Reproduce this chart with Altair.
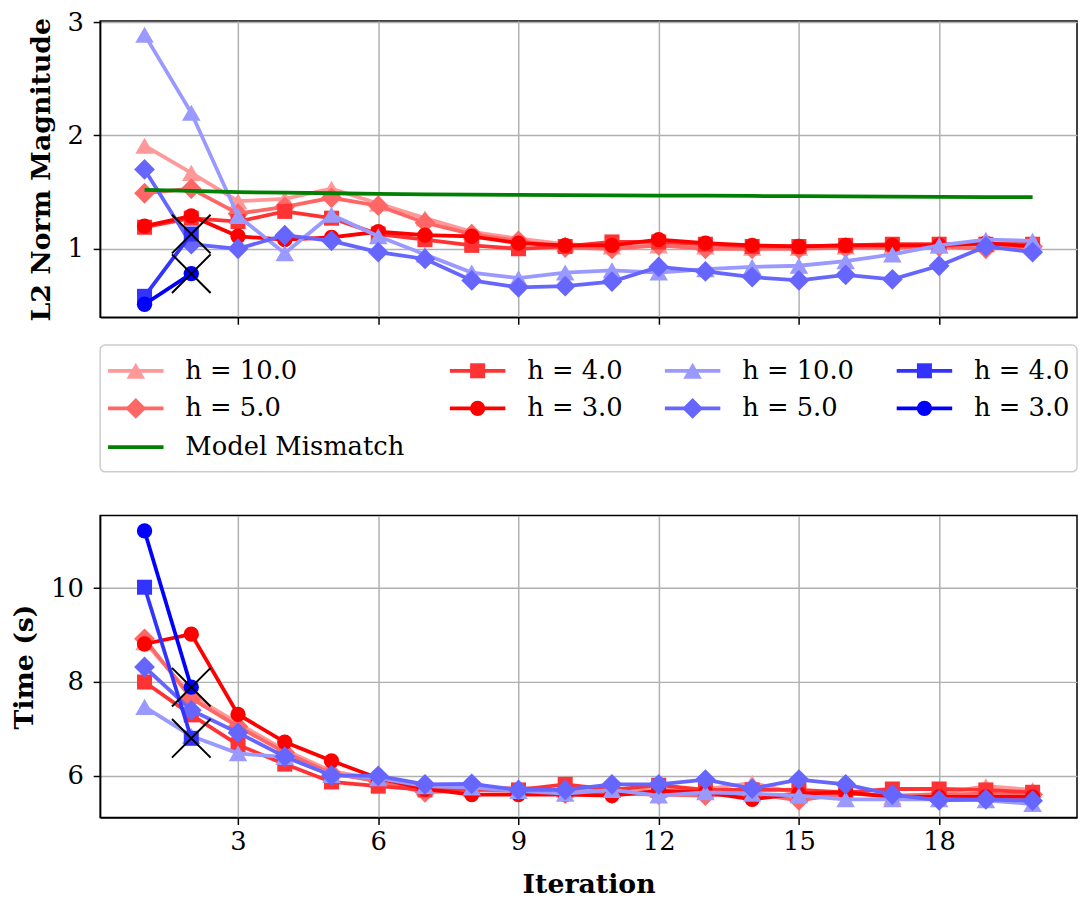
import altair as alt
import pandas as pd

# ---------------- data ----------------
iterations = list(range(1, 21))

# L2 norm magnitude (top panel)
l2_red_h10 = [1.91, 1.67, 1.42, 1.44, 1.53, 1.40, 1.27, 1.15, 1.09, 1.04, 1.02, 1.03, 1.02, 1.01, 1.01, 1.02, 1.02, 1.03, 1.04, 1.05]
l2_red_h5 = [1.49, 1.53, 1.31, 1.37, 1.45, 1.38, 1.23, 1.13, 1.07, 1.01, 1.00, 1.03, 1.00, 1.00, 1.00, 1.01, 1.01, 1.02, 1.00, 1.02]
l2_red_h4 = [1.19, 1.27, 1.24, 1.33, 1.27, 1.13, 1.08, 1.03, 1.00, 1.02, 1.06, 1.06, 1.04, 1.02, 1.02, 1.03, 1.04, 1.04, 1.04, 1.04]
l2_red_h3 = [1.20, 1.29, 1.11, 1.08, 1.10, 1.15, 1.12, 1.11, 1.05, 1.03, 1.03, 1.08, 1.05, 1.03, 1.02, 1.03, 1.03, 1.03, 1.05, 1.02]
l2_blue_h10 = [2.89, 2.20, 1.29, 0.96, 1.30, 1.11, 0.95, 0.79, 0.74, 0.79, 0.81, 0.79, 0.82, 0.84, 0.85, 0.89, 0.95, 1.03, 1.08, 1.07]
l2_blue_h5 = [1.70, 1.04, 1.00, 1.12, 1.07, 0.97, 0.91, 0.72, 0.66, 0.67, 0.71, 0.84, 0.80, 0.75, 0.72, 0.77, 0.73, 0.85, 1.02, 0.97]
l2_blue_h4 = [0.58, 1.13]
l2_blue_h3 = [0.51, 0.78]
l2_model_mismatch = [1.52, 1.51, 1.50, 1.495, 1.49, 1.485, 1.48, 1.478, 1.476, 1.474, 1.472, 1.47, 1.468, 1.466, 1.464, 1.462, 1.46, 1.458, 1.456, 1.455]

# Time (bottom panel)
t_red_h10 = [8.85, 7.72, 7.12, 6.55, 6.10, 5.92, 5.75, 5.72, 5.75, 5.70, 5.72, 5.70, 5.72, 5.85, 5.62, 5.65, 5.55, 5.62, 5.78, 5.70]
t_red_h5 = [8.92, 7.65, 7.05, 6.50, 6.05, 5.88, 5.65, 5.70, 5.68, 5.62, 5.62, 5.60, 5.58, 5.62, 5.48, 5.62, 5.58, 5.60, 5.62, 5.60]
t_red_h4 = [8.00, 7.30, 6.66, 6.25, 5.87, 5.78, 5.70, 5.72, 5.70, 5.82, 5.70, 5.80, 5.70, 5.70, 5.70, 5.65, 5.72, 5.72, 5.70, 5.65]
t_red_h3 = [8.81, 9.02, 7.31, 6.72, 6.32, 5.95, 5.72, 5.60, 5.60, 5.60, 5.58, 5.68, 5.65, 5.50, 5.62, 5.65, 5.55, 5.55, 5.55, 5.55]
t_blue_h10 = [7.47, 6.85, 6.48, 6.40, 6.02, 5.95, 5.78, 5.75, 5.68, 5.62, 5.70, 5.58, 5.65, 5.62, 5.58, 5.50, 5.50, 5.50, 5.48, 5.40]
t_blue_h5 = [8.32, 7.40, 6.92, 6.41, 6.01, 6.00, 5.82, 5.83, 5.70, 5.70, 5.82, 5.82, 5.92, 5.73, 5.92, 5.82, 5.60, 5.48, 5.50, 5.47]
t_blue_h4 = [10.02, 6.80]
t_blue_h3 = [11.22, 7.89]

# stopping points (black X) at iteration 2
fail_iter = [2, 2]
fail_l2 = [1.13, 0.78]
fail_time = [6.80, 7.89]

# series styling
series_labels = ["h = 10.0", "h = 5.0", "h = 4.0", "h = 3.0", "h = 10.0", "h = 5.0", "h = 4.0", "h = 3.0"]
series_colors = ["#ff9999", "#ff6666", "#ff3333", "#ff0000", "#9999ff", "#6666ff", "#3333ff", "#0000ff"]
series_shapes = ["triangle-up", "diamond", "square", "circle", "triangle-up", "diamond", "square", "circle"]
series_sizes = [350, 440, 230, 240, 350, 440, 230, 240]
l2_series = [l2_red_h10, l2_red_h5, l2_red_h4, l2_red_h3, l2_blue_h10, l2_blue_h5, l2_blue_h4, l2_blue_h3]
time_series = [t_red_h10, t_red_h5, t_red_h4, t_red_h3, t_blue_h10, t_blue_h5, t_blue_h4, t_blue_h3]
mismatch_label = "Model Mismatch"
mismatch_color = "#008000"

FONT = "DejaVu Serif"
W = 986
LW = 3.8
LABEL_FS = 26
TITLE_FS = 27

x_ticks = [3, 6, 9, 12, 15, 18]


def panel(series_vals, ydom, height, yticks, ytitle, show_x, mismatch=None, fails=None):
    xs = alt.Scale(domain=[0.05, 20.95], nice=False, zero=False)
    ys = alt.Scale(domain=ydom, nice=False, zero=False)
    if show_x:
        X = alt.X("it:Q", scale=xs, title="Iteration",
                  axis=alt.Axis(values=x_ticks, format="d", grid=True))
    else:
        X = alt.X("it:Q", scale=xs, title=None,
                  axis=alt.Axis(values=x_ticks, labels=False, grid=True))
    Y = alt.Y("v:Q", scale=ys, title=ytitle,
              axis=alt.Axis(values=yticks, format="d", grid=True))
    layers = []
    for vals, col, shp, sz in zip(series_vals, series_colors, series_shapes, series_sizes):
        df = pd.DataFrame({"it": iterations[:len(vals)], "v": vals})
        base = alt.Chart(df)
        layers.append(base.mark_line(color=col, strokeWidth=LW).encode(x=X, y=Y))
        layers.append(base.mark_point(shape=shp, filled=True, size=sz, color=col,
                                      opacity=1).encode(x=X, y=Y))
    if mismatch is not None:
        dfm = pd.DataFrame({"it": iterations[:len(mismatch)], "v": mismatch})
        layers.append(alt.Chart(dfm).mark_line(color=mismatch_color, strokeWidth=LW).encode(x=X, y=Y))
    if fails is not None:
        dff = pd.DataFrame({"it": fails[0], "v": fails[1]})
        layers.append(alt.Chart(dff).mark_point(shape="M-1,-1L1,1M-1,1L1,-1", filled=False,
                                                 size=1520, color="black", strokeWidth=2,
                                                 opacity=1).encode(x=X, y=Y))
    return alt.layer(*layers).properties(width=W, height=height)


top = panel(l2_series, [0.395, 3.01], 299, [1, 2, 3], "L2 Norm Magnitude", False,
            mismatch=l2_model_mismatch, fails=(fail_iter, fail_l2))
bottom = panel(time_series, [5.11, 11.55], 305, [6, 8, 10], "Time (s)", True,
               fails=(fail_iter, fail_time))

# ---------------- legend panel ----------------
LEG_H = 128
leg_col_x = [8, 353, 570, 804]
leg_row_y = [26, 64, 103]
LINE_LEN = 56
TEXT_OFF = 78

# matplotlib ncol=4 legend fills column by column
leg_labels = [series_labels[0], series_labels[1], mismatch_label] + series_labels[2:]
leg_colors = [series_colors[0], series_colors[1], mismatch_color] + series_colors[2:]
leg_shapes = [series_shapes[0], series_shapes[1], None] + series_shapes[2:]
leg_sizes = [series_sizes[0], series_sizes[1], 0] + series_sizes[2:]
leg_cols = [0, 0, 0, 1, 1, 2, 2, 3, 3]
leg_rows = [0, 1, 2, 0, 1, 0, 1, 0, 1]

lx = alt.Scale(domain=[0, W], nice=False, zero=False)
ly = alt.Scale(domain=[0, LEG_H], nice=False, zero=False, reverse=True)
leg_layers = []
for lab, col, shp, sz, c, r in zip(leg_labels, leg_colors, leg_shapes, leg_sizes, leg_cols, leg_rows):
    x0 = leg_col_x[c]
    y0 = leg_row_y[r]
    d = pd.DataFrame({"x0": [x0], "x1": [x0 + LINE_LEN], "xm": [x0 + LINE_LEN / 2],
                      "xt": [x0 + TEXT_OFF], "y": [y0], "label": [lab]})
    b = alt.Chart(d)
    leg_layers.append(b.mark_rule(color=col, strokeWidth=LW).encode(
        x=alt.X("x0:Q", scale=lx, axis=None), x2="x1:Q",
        y=alt.Y("y:Q", scale=ly, axis=None)))
    if shp is not None:
        leg_layers.append(b.mark_point(shape=shp, filled=True, size=sz, color=col, opacity=1).encode(
            x=alt.X("xm:Q", scale=lx, axis=None), y=alt.Y("y:Q", scale=ly, axis=None)))
    leg_layers.append(b.mark_text(align="left", baseline="middle", font=FONT, fontSize=LABEL_FS,
                                  color="black").encode(
        x=alt.X("xt:Q", scale=lx, axis=None), y=alt.Y("y:Q", scale=ly, axis=None), text="label:N"))

legend = alt.layer(*leg_layers).properties(
    width=W, height=LEG_H,
    view=alt.ViewBackground(stroke="#cccccc", strokeWidth=1.5, cornerRadius=5))

lower = alt.vconcat(legend, bottom, spacing=44, bounds="flush")
chart = alt.vconcat(top, lower, spacing=28, bounds="flush").properties(
    padding={"left": 2, "top": -4, "right": 0, "bottom": 0}
).configure(font=FONT).configure_view(
    stroke="black", strokeWidth=1.5
).configure_axis(
    labelFont=FONT, labelFontSize=LABEL_FS, labelColor="black", labelPadding=10,
    titleFont=FONT, titleFontSize=TITLE_FS, titleFontWeight="bold", titleColor="black", titlePadding=14,
    domainColor="black", domainWidth=1.5, tickColor="black", tickWidth=1.5, tickSize=7,
    gridColor="#b0b0b0", gridWidth=1.5
).configure_axisY(
    titlePadding=12
).configure_axisX(
    labelPadding=4, titlePadding=18
)

chart.save("out.html", embed_options={"renderer": "svg", "actions": False})
